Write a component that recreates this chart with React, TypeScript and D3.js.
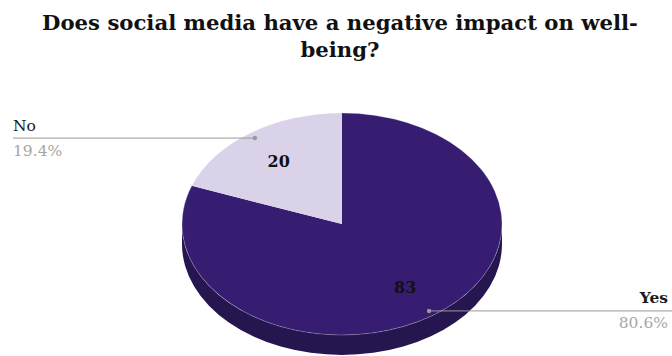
import React from "react";
import * as d3 from "d3";

const categories = ["Yes", "No"];
const values = [83, 20];
const percentLabels = ["80.6%", "19.4%"];
const topColors = ["#361d71", "#d9d2e9"];
const sideColors = ["#25164f", "#9d94b3"];
const titleLines = ["Does social media have a negative impact on well-", "being?"];

const W = 672, H = 356;
const cx = 342, cy = 224, rx = 160, ry = 111, depth = 20;

function pt(a: number, f = 1, dy = 0): [number, number] {
  return [cx + rx * f * Math.sin(a), cy - ry * f * Math.cos(a) + dy];
}

export default function App() {
  const pie = d3.pie<number>().sort(null).value((d) => d);
  const arcs = pie(values);

  const sides = arcs.map((a, i) => {
    const s = Math.max(a.startAngle, Math.PI / 2);
    const e = Math.min(a.endAngle, (3 * Math.PI) / 2);
    if (e <= s) return null;
    const p0 = pt(s), p1 = pt(e), p2 = pt(e, 1, depth), p3 = pt(s, 1, depth);
    const large = e - s > Math.PI ? 1 : 0;
    const d = `M${p0[0]},${p0[1]} A${rx},${ry} 0 ${large} 1 ${p1[0]},${p1[1]} L${p2[0]},${p2[1]} A${rx},${ry} 0 ${large} 0 ${p3[0]},${p3[1]} Z`;
    return <path key={"s" + i} d={d} fill={sideColors[i]} />;
  });

  const tops = arcs.map((a, i) => {
    const p0 = pt(a.startAngle), p1 = pt(a.endAngle);
    const large = a.endAngle - a.startAngle > Math.PI ? 1 : 0;
    const d = `M${cx},${cy} L${p0[0]},${p0[1]} A${rx},${ry} 0 ${large} 1 ${p1[0]},${p1[1]} Z`;
    return <path key={"t" + i} d={d} fill={topColors[i]} />;
  });

  const font = "'DejaVu Serif', Georgia, serif";

  const labels = arcs.map((a, i) => {
    const mid = (a.startAngle + a.endAngle) / 2;
    const [lx, ly] = pt(mid, 0.69);
    const [dx, dy] = pt(mid, 0.95);
    const right = Math.sin(mid) > 0;
    const tx = right ? 668 : 13;
    const ex = right ? 672 : 13;
    return (
      <g key={"l" + i}>
        <text x={lx} y={ly + 6} textAnchor="middle" fontFamily={font} fontWeight="bold" fontSize={16} fill="#111">
          {values[i]}
        </text>
        <line x1={dx} y1={dy + 0.5} x2={ex} y2={dy + 0.5} stroke="#999" strokeWidth={1} />
        <circle cx={dx} cy={dy + 0.5} r={2.2} fill="#999" />
        <text x={tx} y={dy - 7} textAnchor={right ? "end" : "start"} fontFamily={font} fontWeight={right ? "bold" : "normal"} fontSize={15.5} fill="#1a1a1a">
          {categories[i]}
        </text>
        <text x={tx} y={dy + 18} textAnchor={right ? "end" : "start"} fontFamily={font} fontSize={15.5} fill="#a6a6a6">
          {percentLabels[i]}
        </text>
      </g>
    );
  });

  return (
    <svg width={W} height={H} style={{ position: "absolute", left: 0, top: 0, background: "#fff" }}>
      <rect width={W} height={H} fill="#fff" />
      <text textAnchor="middle" fontFamily={font} fontWeight="bold" fontSize={21.2} fill="#111">
        {titleLines.map((t, i) => (
          <tspan key={i} x={W / 2 + 4} y={30 + i * 27}>{t}</tspan>
        ))}
      </text>
      {sides}
      {tops}
      <ellipse cx={cx} cy={cy} rx={rx} ry={ry} fill="none" stroke="#ffffff" strokeOpacity={0.25} strokeWidth={1} />
      {labels}
    </svg>
  );
}
